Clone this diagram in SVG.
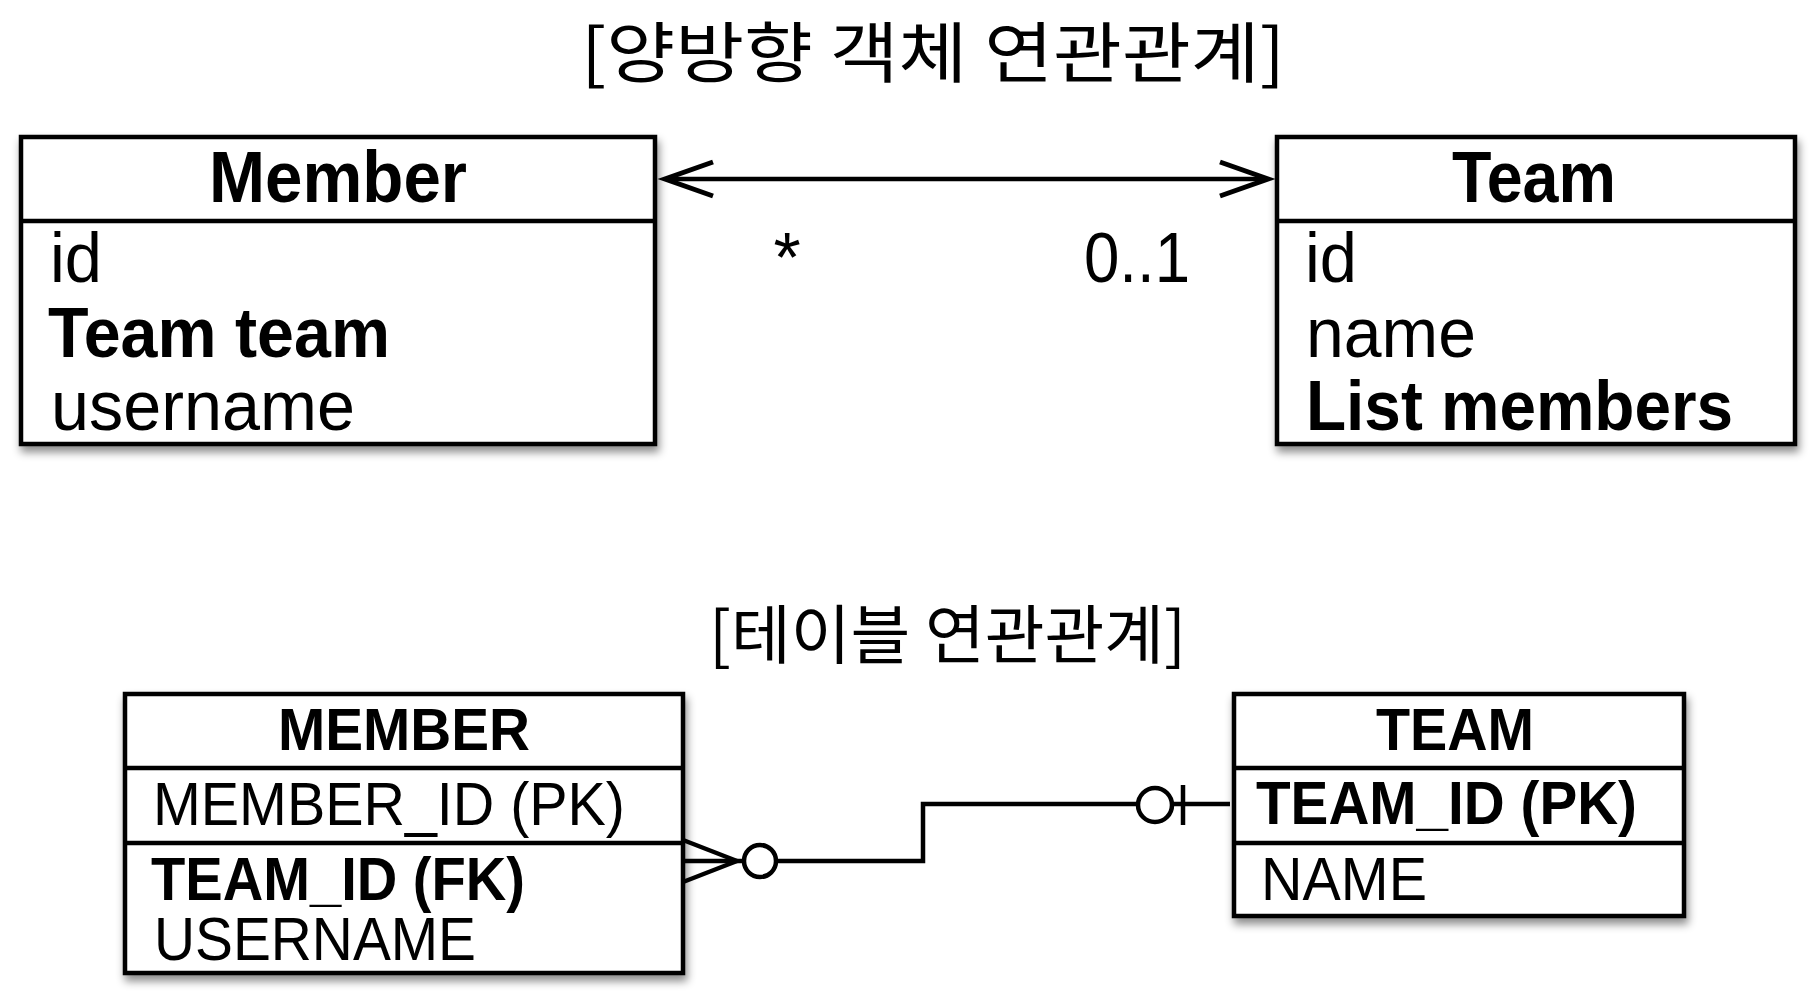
<svg xmlns="http://www.w3.org/2000/svg" width="1810" height="1006" viewBox="0 0 1810 1006">
<style>
  .box { fill: #ffffff; stroke: #000000; stroke-width: 4.5; }
  .div { stroke: #000000; stroke-width: 4.5; fill: none; }
  .t { font-family: "Liberation Sans", Arial, sans-serif; fill: #000000; }
  .b { font-weight: bold; }
  .uh { font-size: 72px; }
  .ur { font-size: 70px; }
  .eh { font-size: 60px; }
  .er { font-size: 61px; }
  .kr { font-family: "Noto Sans CJK KR", sans-serif; fill: #000000; }
  .ln { stroke: #000000; stroke-width: 4.5; fill: none; }
  .hd { stroke: #000000; stroke-width: 5; fill: none; stroke-linejoin: miter; }
  .ci { stroke: #000000; stroke-width: 4.5; fill: #ffffff; }
</style>
<defs>
  <filter id="sh" x="-5%" y="-5%" width="112%" height="120%">
    <feDropShadow dx="2" dy="6" stdDeviation="4" flood-color="#000000" flood-opacity="0.45"/>
  </filter>
</defs>
<rect width="1810" height="1006" fill="#ffffff"/>

<g id="title-object">
  <text class="kr" x="581" y="77" font-size="66" textLength="704" lengthAdjust="spacingAndGlyphs">[양방향 객체 연관관계]</text>
</g>
<g id="title-table">
  <text class="kr" x="709" y="658" font-size="64" textLength="477" lengthAdjust="spacingAndGlyphs">[테이블 연관관계]</text>
</g>

<g id="node-member">
  <rect class="box" x="21" y="137" width="634" height="307" filter="url(#sh)"/>
  <line class="div" x1="21" y1="221" x2="655" y2="221"/>
  <text class="t b uh" x="338" y="202" text-anchor="middle" textLength="258" lengthAdjust="spacingAndGlyphs">Member</text>
  <text class="t ur" x="50" y="282" textLength="52" lengthAdjust="spacingAndGlyphs">id</text>
  <text class="t b ur" x="48" y="357" textLength="342" lengthAdjust="spacingAndGlyphs">Team team</text>
  <text class="t ur" x="51" y="430" textLength="304" lengthAdjust="spacingAndGlyphs">username</text>
</g>

<g id="node-team">
  <rect class="box" x="1277" y="137" width="518" height="307" filter="url(#sh)"/>
  <line class="div" x1="1277" y1="221" x2="1795" y2="221"/>
  <text class="t b uh" x="1534" y="202" text-anchor="middle" textLength="164" lengthAdjust="spacingAndGlyphs">Team</text>
  <text class="t ur" x="1305" y="282" textLength="52" lengthAdjust="spacingAndGlyphs">id</text>
  <text class="t ur" x="1306" y="357" textLength="170" lengthAdjust="spacingAndGlyphs">name</text>
  <text class="t b ur" x="1306" y="430" textLength="427" lengthAdjust="spacingAndGlyphs">List members</text>
</g>

<g id="node-MEMBER">
  <rect class="box" x="125" y="694" width="558" height="279" filter="url(#sh)"/>
  <line class="div" x1="125" y1="768" x2="683" y2="768"/>
  <line class="div" x1="125" y1="843" x2="683" y2="843"/>
  <text class="t b eh" x="404" y="750" text-anchor="middle" textLength="252" lengthAdjust="spacingAndGlyphs">MEMBER</text>
  <text class="t er" x="153" y="825" textLength="472" lengthAdjust="spacingAndGlyphs">MEMBER_ID (PK)</text>
  <text class="t b er" x="151" y="900" textLength="374" lengthAdjust="spacingAndGlyphs">TEAM_ID (FK)</text>
  <text class="t er" x="154" y="960" textLength="322" lengthAdjust="spacingAndGlyphs">USERNAME</text>
</g>

<g id="node-TEAM">
  <rect class="box" x="1234" y="694" width="450" height="222" filter="url(#sh)"/>
  <line class="div" x1="1234" y1="768" x2="1684" y2="768"/>
  <line class="div" x1="1234" y1="843" x2="1684" y2="843"/>
  <text class="t b eh" x="1455" y="750" text-anchor="middle" textLength="158" lengthAdjust="spacingAndGlyphs">TEAM</text>
  <text class="t b er" x="1256" y="824" textLength="381" lengthAdjust="spacingAndGlyphs">TEAM_ID (PK)</text>
  <text class="t er" x="1261" y="900" textLength="166" lengthAdjust="spacingAndGlyphs">NAME</text>
</g>

<g id="connectors">
  <g id="assoc-member-team">
    <line class="ln" x1="666" y1="179" x2="1267" y2="179"/>
    <polyline class="hd" points="713,162 665,179 713,196"/>
    <polyline class="hd" points="1220,162 1268,179 1220,196"/>
    <text class="t ur" x="787" y="282" text-anchor="middle">*</text>
    <text class="t ur" x="1084" y="282" textLength="106" lengthAdjust="spacingAndGlyphs">0..1</text>
  </g>
  <g id="rel-MEMBER-TEAM">
    <line class="ln" x1="683" y1="840" x2="737" y2="861"/>
    <line class="ln" x1="683" y1="861" x2="737" y2="861"/>
    <line class="ln" x1="683" y1="882" x2="737" y2="861"/>
    <line class="ln" x1="737" y1="861" x2="744" y2="861"/>
    <circle class="ci" cx="760" cy="861" r="16"/>
    <polyline class="ln" points="776,861 923,861 923,804 1138,804"/>
    <circle class="ci" cx="1155" cy="805" r="17"/>
    <line class="ln" x1="1172" y1="804" x2="1230" y2="804"/>
    <line class="ln" x1="1183" y1="785" x2="1183" y2="825"/>
  </g>
</g>
</svg>
